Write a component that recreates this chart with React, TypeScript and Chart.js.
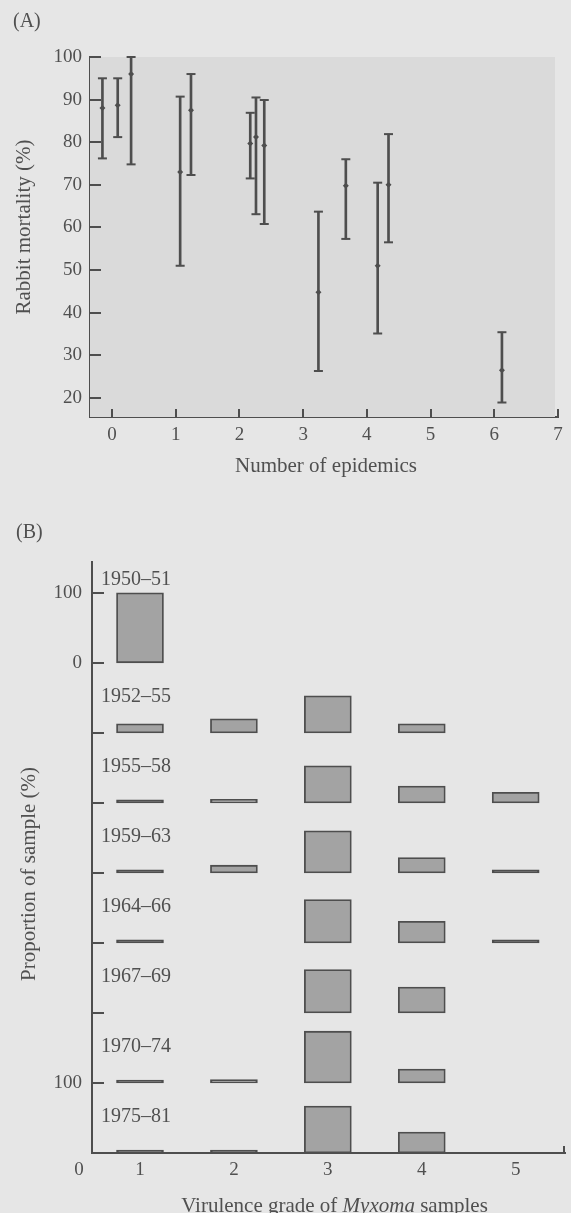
import React, { useEffect, useRef } from 'react';
import { Chart, registerables } from 'chart.js';

Chart.register(...registerables);

// ---------- Panel A data: rabbit mortality vs number of epidemics ----------
const epidemicsX = [-0.15, 0.09, 0.3, 1.07, 1.24, 2.17, 2.26, 2.39, 3.24, 3.67, 4.17, 4.34, 6.12];
const mortalityMean = [88, 88.7, 96, 73, 87.5, 79.7, 81.2, 79.2, 44.8, 69.8, 51, 70, 26.5];
const mortalityLow = [76.2, 81.2, 74.8, 51, 72.3, 71.5, 63.1, 60.8, 26.3, 57.3, 35.1, 56.5, 18.9];
const mortalityHigh = [95, 95, 100, 90.7, 96, 86.9, 90.5, 89.9, 63.7, 76, 70.5, 81.9, 35.4];
const xTicksA = [0, 1, 2, 3, 4, 5, 6, 7];
const yTicksA = [20, 30, 40, 50, 60, 70, 80, 90, 100];

// ---------- Panel B data: proportion of samples by virulence grade ----------
const grades = [1, 2, 3, 4, 5];
const gradeLabels = ['1', '2', '3', '4', '5'];
const periods = ['1950–51', '1952–55', '1955–58', '1959–63', '1964–66', '1967–69', '1970–74', '1975–81'];
const p1950_51 = [100, 0, 0, 0, 0];
const p1952_55 = [13, 20, 53, 13, 0];
const p1955_58 = [1, 5, 53, 24, 15];
const p1959_63 = [2, 11, 60, 22, 4];
const p1964_66 = [1, 0, 62, 31, 1];
const p1967_69 = [0, 0, 62, 37, 0];
const p1970_74 = [1, 5, 74, 20, 0];
const p1975_81 = [2, 3, 67, 30, 0];
const proportionsByPeriod = [p1950_51, p1952_55, p1955_58, p1959_63, p1964_66, p1967_69, p1970_74, p1975_81];
const bandSize = 100;

const INK = '#4e4e4e';
const TEXT = '#505050';
const BAR_FILL = '#a3a3a3';
const SERIF = "'Liberation Serif', 'DejaVu Serif', 'Times New Roman', serif";

const tickFont = { family: SERIF, size: 19 };

// ---------- Plugins ----------
const panelAPlugin = {
  id: 'panelA',
  beforeDatasetsDraw(chart: any) {
    const { ctx, chartArea } = chart;
    ctx.save();
    ctx.fillStyle = '#dadada';
    ctx.fillRect(chartArea.left, chartArea.top, chartArea.right - chartArea.left - 3, chartArea.bottom - chartArea.top);
    ctx.restore();
  },
  afterDatasetsDraw(chart: any) {
    const { ctx, chartArea, scales } = chart;
    ctx.save();
    ctx.strokeStyle = INK;
    ctx.lineWidth = 2;
    scales.y.ticks.forEach((t: any) => {
      const py = Math.round(scales.y.getPixelForValue(t.value));
      ctx.beginPath();
      ctx.moveTo(chartArea.left, py);
      ctx.lineTo(chartArea.left + 11, py);
      ctx.stroke();
    });
    scales.x.ticks.forEach((t: any) => {
      const px = Math.round(scales.x.getPixelForValue(t.value));
      ctx.beginPath();
      ctx.moveTo(px, chartArea.bottom);
      ctx.lineTo(px, chartArea.bottom - 8);
      ctx.stroke();
    });
    ctx.fillStyle = TEXT;
    ctx.textBaseline = 'middle';
    // panel letter
    ctx.font = `20px ${SERIF}`;
    ctx.textAlign = 'left';
    ctx.fillText('(A)', 13, 22);
    // axis titles
    ctx.font = `21px ${SERIF}`;
    ctx.textAlign = 'center';
    ctx.fillText('Number of epidemics', (chartArea.left + chartArea.right) / 2 + 2, 466);
    ctx.translate(24.5, 227);
    ctx.rotate(-Math.PI / 2);
    ctx.fillText('Rabbit mortality (%)', 0, 0);
    ctx.restore();
  },
};

const panelBPlugin = {
  id: 'panelB',
  afterDatasetsDraw(chart: any) {
    const { ctx, chartArea, scales } = chart;
    ctx.save();
    ctx.strokeStyle = INK;
    ctx.lineWidth = 2;
    scales.y.ticks.forEach((t: any) => {
      const py = Math.round(scales.y.getPixelForValue(t.value));
      ctx.beginPath();
      ctx.moveTo(chartArea.left, py);
      ctx.lineTo(chartArea.left + 12, py);
      ctx.stroke();
    });
    // end mark of the x axis
    ctx.beginPath();
    ctx.moveTo(chartArea.right - 1, chartArea.bottom);
    ctx.lineTo(chartArea.right - 1, chartArea.bottom - 7);
    ctx.stroke();

    ctx.fillStyle = TEXT;
    ctx.textBaseline = 'middle';
    // period labels
    ctx.font = `20px ${SERIF}`;
    ctx.textAlign = 'left';
    periods.forEach((p, i) => {
      const base = (periods.length - 1 - i) * bandSize;
      const maxVal = Math.max(...proportionsByPeriod[i]);
      const v = maxVal >= 90 ? base + maxVal + 18 : base + 52;
      ctx.fillText(p, chartArea.left + 9, scales.y.getPixelForValue(v));
    });
    // origin label
    ctx.textAlign = 'center';
    ctx.font = `19px ${SERIF}`;
    ctx.fillText('0', chartArea.left - 13, chartArea.bottom + 17.5);
    // panel letter
    ctx.font = `20px ${SERIF}`;
    ctx.textAlign = 'left';
    ctx.fillText('(B)', 16, 43);
    // x title with italic genus name
    const y = 716;
    const parts = [
      { t: 'Virulence grade of ', f: `21px ${SERIF}` },
      { t: 'Myxoma', f: `italic 21px ${SERIF}` },
      { t: ' samples', f: `21px ${SERIF}` },
    ];
    let total = 0;
    parts.forEach((pt) => {
      ctx.font = pt.f;
      total += ctx.measureText(pt.t).width;
    });
    let x = (chartArea.left + chartArea.right) / 2 + 6 - total / 2;
    parts.forEach((pt) => {
      ctx.font = pt.f;
      ctx.fillText(pt.t, x, y);
      x += ctx.measureText(pt.t).width;
    });
    // y title
    ctx.font = `21px ${SERIF}`;
    ctx.textAlign = 'center';
    ctx.translate(29, 384);
    ctx.rotate(-Math.PI / 2);
    ctx.fillText('Proportion of sample (%)', 0, 0);
    ctx.restore();
  },
};

function PanelA() {
  const ref = useRef<HTMLCanvasElement | null>(null);
  useEffect(() => {
    if (!ref.current) return;
    const caps = [
      ...epidemicsX.map((x, i) => ({ x, y: mortalityLow[i] })),
      ...epidemicsX.map((x, i) => ({ x, y: mortalityHigh[i] })),
    ];
    const chart = new Chart(ref.current, {
      type: 'bar',
      data: {
        datasets: [
          {
            type: 'bar',
            label: 'range',
            data: epidemicsX.map((x, i) => ({ x, y: [mortalityLow[i], mortalityHigh[i]] })) as any,
            backgroundColor: INK,
            borderWidth: 0,
            barThickness: 2,
            grouped: false,
            clip: false as any,
          } as any,
          {
            type: 'scatter',
            label: 'caps',
            data: caps,
            pointStyle: 'line',
            pointRadius: 4.5,
            pointBorderWidth: 2,
            borderColor: INK,
            backgroundColor: INK,
            showLine: false,
            clip: false as any,
          } as any,
          {
            type: 'scatter',
            label: 'mean',
            data: epidemicsX.map((x, i) => ({ x, y: mortalityMean[i] })),
            pointStyle: 'rectRot',
            pointRadius: 3,
            borderWidth: 0,
            backgroundColor: INK,
            borderColor: INK,
            showLine: false,
            clip: false as any,
          } as any,
        ],
      },
      options: {
        animation: false,
        responsive: false,
        maintainAspectRatio: false,
        layout: { padding: { left: 0, right: 13, top: 57, bottom: 0 } },
        plugins: { legend: { display: false }, tooltip: { enabled: false } },
        scales: {
          x: {
            type: 'linear',
            min: -0.345,
            max: 7,
            offset: false,
            afterBuildTicks: (s: any) => {
              s.ticks = xTicksA.map((v) => ({ value: v }));
            },
            afterFit: (s: any) => {
              s.height = 73;
            },
            grid: { drawOnChartArea: false, drawTicks: false },
            border: { color: INK, width: 2 },
            ticks: { font: tickFont, color: TEXT, padding: 7, maxRotation: 0 },
          },
          y: {
            type: 'linear',
            min: 15.5,
            max: 100,
            afterBuildTicks: (s: any) => {
              s.ticks = yTicksA.map((v) => ({ value: v }));
            },
            afterFit: (s: any) => {
              s.width = 90;
            },
            grid: { drawOnChartArea: false, drawTicks: false },
            border: { color: INK, width: 2 },
            ticks: { font: tickFont, color: TEXT, padding: 8 },
          },
        },
      } as any,
      plugins: [panelAPlugin],
    });
    return () => chart.destroy();
  }, []);
  return <canvas ref={ref} width={571} height={490} style={{ display: 'block', width: 571, height: 490 }} />;
}

function PanelB() {
  const ref = useRef<HTMLCanvasElement | null>(null);
  useEffect(() => {
    if (!ref.current) return;
    const datasets = periods.map((p, i) => {
      const base = (periods.length - 1 - i) * bandSize;
      const vals = proportionsByPeriod[i];
      return {
        type: 'bar',
        label: p,
        data: grades.map((g, j) => (vals[j] > 0 ? { x: g, y: [base, base + vals[j]] } : null)).filter(Boolean),
        backgroundColor: (c: any) => {
          const r = c.raw;
          return r && r.y && r.y[1] - r.y[0] < 4.5 ? INK : BAR_FILL;
        },
        borderColor: INK,
        borderWidth: 1.8,
        borderSkipped: false,
        barThickness: 47,
        minBarLength: 3,
        grouped: false,
      } as any;
    });
    const yTickVals = periods.map((_, i) => (i + 1) * bandSize);
    const chart = new Chart(ref.current, {
      type: 'bar',
      data: { datasets },
      options: {
        animation: false,
        responsive: false,
        maintainAspectRatio: false,
        layout: { padding: { left: 0, right: 6, top: 72, bottom: 0 } },
        plugins: { legend: { display: false }, tooltip: { enabled: false } },
        scales: {
          x: {
            type: 'linear',
            min: 0.489,
            max: 5.525,
            offset: false,
            afterBuildTicks: (s: any) => {
              s.ticks = grades.map((v) => ({ value: v }));
            },
            afterFit: (s: any) => {
              s.height = 60;
            },
            grid: { drawOnChartArea: false, drawTicks: false },
            border: { color: INK, width: 2 },
            ticks: {
              font: tickFont,
              color: TEXT,
              padding: 6,
              maxRotation: 0,
              callback: (v: any) => gradeLabels[grades.indexOf(v)] ?? '',
            },
          },
          y: {
            type: 'linear',
            min: 0,
            max: 844,
            afterBuildTicks: (s: any) => {
              s.ticks = yTickVals.map((v) => ({ value: v }));
            },
            afterFit: (s: any) => {
              s.width = 92;
            },
            grid: { drawOnChartArea: false, drawTicks: false },
            border: { color: INK, width: 2 },
            ticks: {
              font: tickFont,
              color: TEXT,
              padding: 10,
              callback: (v: any) => {
                const top = periods.length * bandSize;
                if (v === top || v === bandSize) return '100';
                if (v === top - bandSize) return '0';
                return '';
              },
            },
          },
        },
      } as any,
      plugins: [panelBPlugin],
    });
    return () => chart.destroy();
  }, []);
  return <canvas ref={ref} width={571} height={723} style={{ display: 'block', width: 571, height: 723 }} />;
}

export default function App() {
  return (
    <div
      style={{
        position: 'absolute',
        left: 0,
        top: 0,
        width: 571,
        height: 1213,
        background: '#e6e6e6',
        overflow: 'hidden',
      }}
    >
      <PanelA />
      <PanelB />
    </div>
  );
}
